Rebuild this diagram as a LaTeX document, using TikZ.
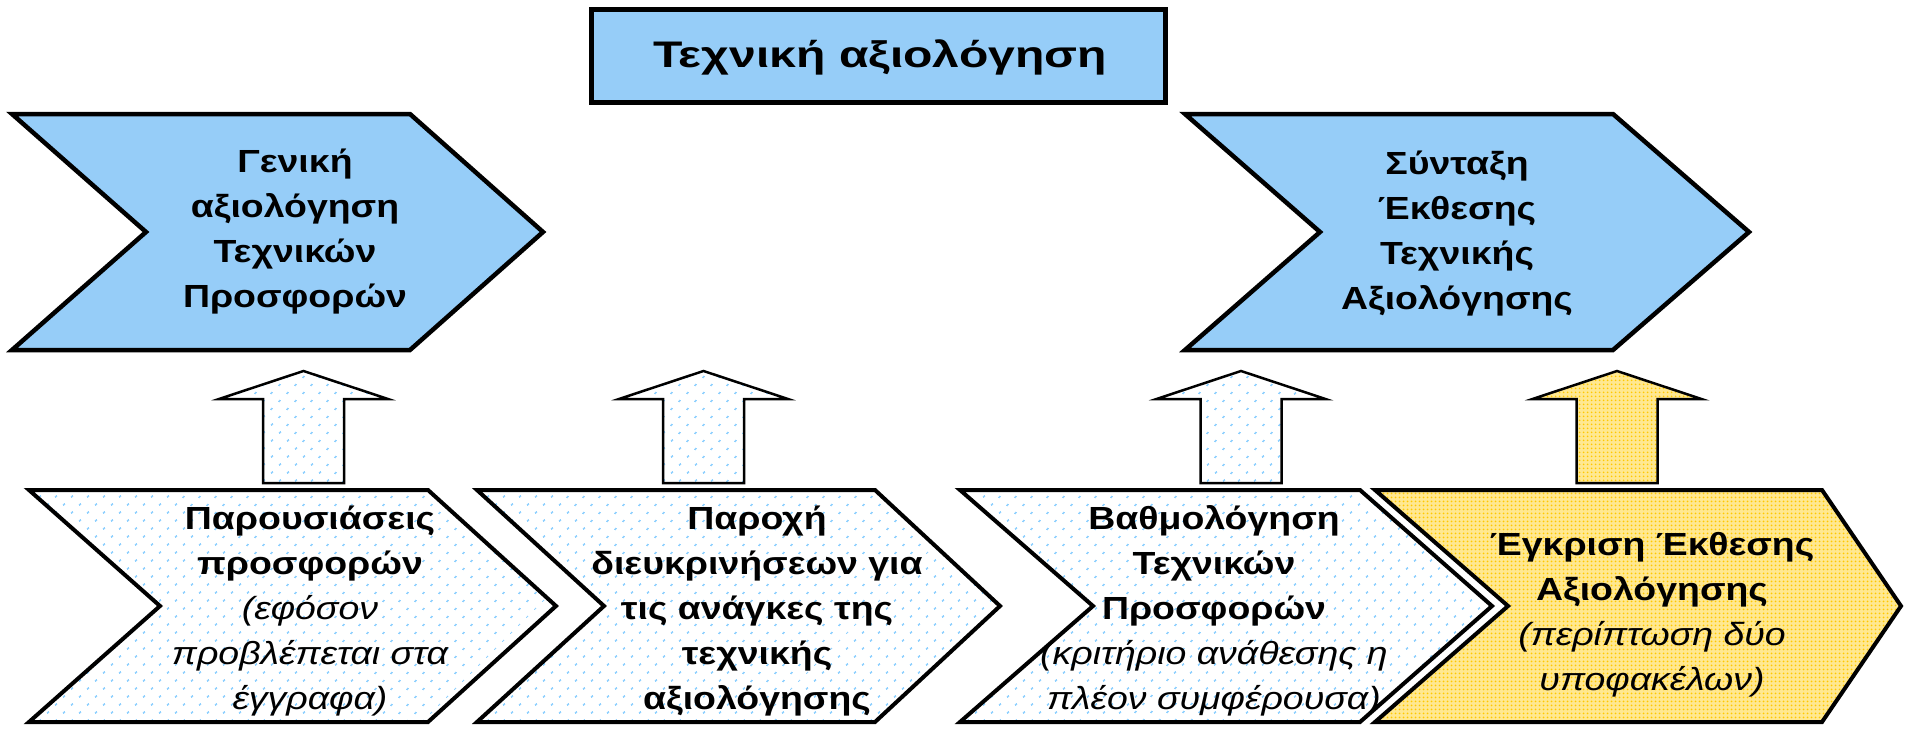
\documentclass[tikz,border=0pt]{standalone}
\usepackage{fontspec}
\setmainfont{Liberation Sans}
\newfontfamily\lblfont[FakeStretch=1.17]{Liberation Sans}
\newfontfamily\ttlfont[FakeStretch=1.3]{Liberation Sans}
\usetikzlibrary{patterns.meta}
\definecolor{topblue}{RGB}{150,205,248}
\definecolor{dotblue}{RGB}{85,185,255}
\definecolor{dotyellow}{RGB}{255,200,0}
\definecolor{baseyellow}{RGB}{255,232,145}
\begin{document}
\begin{tikzpicture}[x=1pt,y=-1pt,
  lbl/.style={align=center, font=\lblfont\fontsize{32}{45}\selectfont\bfseries, inner sep=0pt},
  ttl/.style={font=\ttlfont\fontsize{37}{42}\selectfont\bfseries, inner sep=0pt},
  topshape/.style={draw=black, line width=4.5pt, fill=topblue, line join=miter},
  botshape/.style={draw=black, line width=4pt, line join=miter,
    pattern={Dots[distance=11.31pt, angle=45, radius=1.2pt]}, pattern color=dotblue},
  yelshape/.style={draw=black, line width=4pt, line join=miter, preaction={fill=baseyellow},
    pattern={Dots[distance=4pt, radius=1.2pt]}, pattern color=dotyellow},
  bluearrow/.style={draw=black, line width=2.5pt, line join=miter,
    pattern={Dots[distance=11.31pt, angle=45, radius=1.2pt]}, pattern color=dotblue},
  yelarrow/.style={draw=black, line width=2.5pt, line join=miter, preaction={fill=baseyellow},
    pattern={Dots[distance=4pt, radius=1.2pt]}, pattern color=dotyellow}]
\useasboundingbox (0,0) rectangle (1905,728);
% title
\draw[topshape, line width=5pt] (591.5,9.5) rectangle (1165.5,102.5);
\node[ttl] (title) at (880,57) {Τεχνική αξιολόγηση};
% top chevrons
\draw[topshape] (12,114) -- (410,114) -- (543,232) -- (410,350) -- (12,350) -- (146,232) -- cycle;
\node[lbl] (gen) at (295,232) {Γενική\\αξιολόγηση\\Τεχνικών\\Προσφορών};
\draw[topshape] (1185,114) -- (1613,114) -- (1749,232) -- (1613,350) -- (1185,350) -- (1320,232) -- cycle;
\node[lbl] (synt) at (1457,234) {Σύνταξη\\Έκθεσης\\Τεχνικής\\Αξιολόγησης};
% block arrows
\foreach \cx in {303.5,703.5,1241}{
  \draw[bluearrow] (\cx-40.5,483) -- (\cx-40.5,399) -- (\cx-84.5,399) -- (\cx,371)
     -- (\cx+84.5,399) -- (\cx+40.5,399) -- (\cx+40.5,483) -- cycle;
}
\draw[yelarrow] (1617-40.5,483) -- (1617-40.5,399) -- (1617-84.5,399) -- (1617,371)
     -- (1617+84.5,399) -- (1617+40.5,399) -- (1617+40.5,483) -- cycle;
% bottom chevrons
\draw[botshape] (29,490) -- (428,490) -- (556,606) -- (428,722) -- (29,722) -- (160,606) -- cycle;
\node[lbl] (pres) at (310,611) {Παρουσιάσεις\\προσφορών\\{\mdseries\itshape (εφόσον}\\{\mdseries\itshape προβλέπεται στα}\\{\mdseries\itshape έγγραφα)}};
\draw[botshape] (477,490) -- (875,490) -- (1000,606) -- (875,722) -- (477,722) -- (604,606) -- cycle;
\node[lbl] (paro) at (757,611) {Παροχή\\διευκρινήσεων για\\τις ανάγκες της\\τεχνικής\\αξιολόγησης};
\draw[botshape] (960,490) -- (1360,490) -- (1492,606) -- (1360,722) -- (960,722) -- (1093,606) -- cycle;
\node[lbl] (vath) at (1214,611) {Βαθμολόγηση\\Τεχνικών\\Προσφορών\\{\mdseries\itshape (κριτήριο ανάθεσης η}\\{\mdseries\itshape πλέον συμφέρουσα)}};
\draw[yelshape] (1375,490) -- (1822,490) -- (1901,606) -- (1822,722) -- (1375,722) -- (1508,606) -- cycle;
\node[lbl] (egk) at (1652,615) {Έγκριση Έκθεσης\\Αξιολόγησης\\{\mdseries\itshape (περίπτωση δύο}\\{\mdseries\itshape υποφακέλων)}};
\end{tikzpicture}
\end{document}
